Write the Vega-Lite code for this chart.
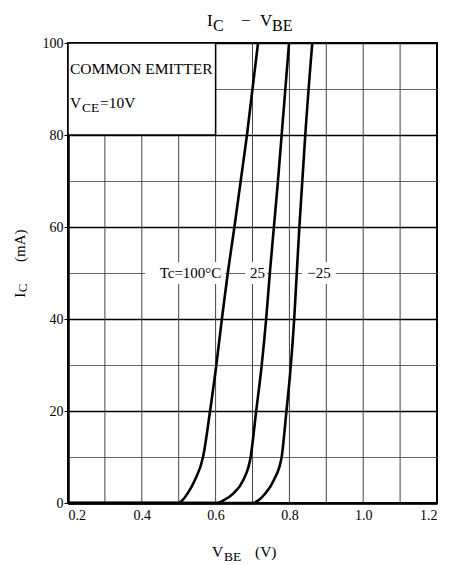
{
  "$schema": "https://vega.github.io/schema/vega-lite/v6.json",
  "autosize": "none",
  "width": 369,
  "height": 460,
  "padding": {"left": 68, "top": 43, "right": 12, "bottom": 62},
  "background": "white",
  "config": {
    "view": {"stroke": "black", "strokeWidth": 2},
    "font": "Liberation Serif",
    "text": {"font": "Liberation Serif", "color": "black"}
  },
  "datasets": {
    "vgrid": [
      {"V": 0.3}, {"V": 0.4}, {"V": 0.5}, {"V": 0.6}, {"V": 0.7},
      {"V": 0.8}, {"V": 0.9}, {"V": 1.0}, {"V": 1.1}
    ],
    "curves": [
      {"T": "100", "V": 0.2, "I": 0},
      {"T": "100", "V": 0.5, "I": 0},
      {"T": "100", "V": 0.51, "I": 0.6},
      {"T": "100", "V": 0.525, "I": 2.2},
      {"T": "100", "V": 0.544, "I": 5},
      {"T": "100", "V": 0.566, "I": 10},
      {"T": "100", "V": 0.585, "I": 20},
      {"T": "100", "V": 0.602, "I": 30},
      {"T": "100", "V": 0.617, "I": 40},
      {"T": "100", "V": 0.633, "I": 50},
      {"T": "100", "V": 0.651, "I": 60},
      {"T": "100", "V": 0.668, "I": 70},
      {"T": "100", "V": 0.685, "I": 80},
      {"T": "100", "V": 0.715, "I": 100},
      {"T": "25", "V": 0.2, "I": 0},
      {"T": "25", "V": 0.605, "I": 0},
      {"T": "25", "V": 0.62, "I": 0.5},
      {"T": "25", "V": 0.647, "I": 2},
      {"T": "25", "V": 0.675, "I": 5},
      {"T": "25", "V": 0.695, "I": 10},
      {"T": "25", "V": 0.71, "I": 20},
      {"T": "25", "V": 0.725, "I": 30},
      {"T": "25", "V": 0.737, "I": 40},
      {"T": "25", "V": 0.747, "I": 50},
      {"T": "25", "V": 0.758, "I": 60},
      {"T": "25", "V": 0.769, "I": 70},
      {"T": "25", "V": 0.779, "I": 80},
      {"T": "25", "V": 0.799, "I": 100},
      {"T": "-25", "V": 0.2, "I": 0},
      {"T": "-25", "V": 0.7, "I": 0},
      {"T": "-25", "V": 0.715, "I": 0.5},
      {"T": "-25", "V": 0.734, "I": 2},
      {"T": "-25", "V": 0.758, "I": 5},
      {"T": "-25", "V": 0.779, "I": 10},
      {"T": "-25", "V": 0.792, "I": 20},
      {"T": "-25", "V": 0.804, "I": 30},
      {"T": "-25", "V": 0.813, "I": 40},
      {"T": "-25", "V": 0.82, "I": 50},
      {"T": "-25", "V": 0.827, "I": 60},
      {"T": "-25", "V": 0.835, "I": 70},
      {"T": "-25", "V": 0.843, "I": 80},
      {"T": "-25", "V": 0.862, "I": 100}
    ],
    "boxes": [
      {"role": "box", "V": 0.2, "V2": 0.6, "I": 80, "I2": 100},
      {"role": "bg", "V": 0.409, "V2": 0.626, "I": 47.6, "I2": 52.4},
      {"role": "bg", "V": 0.68, "V2": 0.739, "I": 47.6, "I2": 52.4},
      {"role": "bg", "V": 0.834, "V2": 0.926, "I": 47.6, "I2": 52.4}
    ],
    "texts": [
      {"role": "title", "txt": "I", "V": 0.5767, "I": 104.7},
      {"role": "titlesub", "txt": "C", "V": 0.593, "I": 104.7},
      {"role": "title", "txt": "−", "V": 0.669, "I": 104.7},
      {"role": "title", "txt": "V", "V": 0.72, "I": 104.7},
      {"role": "titlesub", "txt": "BE", "V": 0.7528, "I": 104.7},
      {"role": "label", "txt": "V", "V": 0.59, "I": -10.65},
      {"role": "labelsub", "txt": "BE", "V": 0.6228, "I": -10.65},
      {"role": "label", "txt": "(V)", "V": 0.7068, "I": -10.65},
      {"role": "label", "txt": "COMMON EMITTER", "V": 0.2054, "I": 94.35},
      {"role": "label", "txt": "V", "V": 0.2054, "I": 86.96},
      {"role": "labelsub", "txt": "CE", "V": 0.2379, "I": 86.96},
      {"role": "label", "txt": "=10V", "V": 0.2867, "I": 86.96},
      {"role": "ylabel", "txt": "I", "V": 0.07, "I": 44.6},
      {"role": "ylabelsub", "txt": "C", "V": 0.07, "I": 45.8},
      {"role": "ylabel", "txt": "(mA)", "V": 0.07, "I": 52.4},
      {"role": "curve", "txt": "Tc=100°C", "V": 0.532, "I": 50},
      {"role": "curve", "txt": "25", "V": 0.7135, "I": 50},
      {"role": "curve", "txt": "−25", "V": 0.88, "I": 50}
    ]
  },
  "layer": [
    {
      "data": {"name": "vgrid"},
      "mark": {"type": "rule", "color": "#444", "strokeWidth": 1},
      "encoding": {
        "x": {
          "field": "V", "type": "quantitative",
          "scale": {"domain": [0.2, 1.2], "nice": false, "zero": false},
          "axis": {
            "values": [0.2, 0.4, 0.6, 0.8, 1.0, 1.2],
            "format": ".1f",
            "title": null,
            "grid": false,
            "ticks": false,
            "labelPadding": 5,
            "labelFont": "Liberation Serif",
            "labelFontSize": 14,
            "labelColor": "black",
            "domainColor": "black",
            "domainWidth": 2.5
          }
        }
      }
    },
    {
      "data": {"name": "boxes"},
      "transform": [{"filter": "datum.role == 'box'"}],
      "mark": {"type": "rect", "fill": "white", "stroke": "black", "strokeWidth": 1.5},
      "encoding": {
        "x": {"field": "V", "type": "quantitative"},
        "x2": {"field": "V2"},
        "y": {
          "field": "I", "type": "quantitative",
          "scale": {"domain": [0, 100], "nice": false},
          "axis": {
            "values": [0, 10, 20, 30, 40, 50, 60, 70, 80, 90, 100],
            "labelExpr": "datum.value % 20 == 0 ? datum.label : ''",
            "title": null,
            "grid": true,
            "gridColor": {"condition": {"test": "datum.value % 20 == 0", "value": "black"}, "value": "#666"},
            "gridWidth": {"condition": {"test": "datum.value % 20 == 0", "value": 1.6}, "value": 1},
            "tickSize": 4,
            "tickColor": {"condition": {"test": "datum.value % 20 == 0", "value": "black"}, "value": "transparent"},
            "labelPadding": 1,
            "labelFont": "Liberation Serif",
            "labelFontSize": 14,
            "labelColor": "black",
            "domainColor": "black",
            "domainWidth": 2.5
          }
        },
        "y2": {"field": "I2"}
      }
    },
    {
      "data": {"name": "boxes"},
      "transform": [{"filter": "datum.role == 'bg'"}],
      "mark": {"type": "rect", "fill": "white"},
      "encoding": {
        "x": {"field": "V", "type": "quantitative"},
        "x2": {"field": "V2"},
        "y": {"field": "I", "type": "quantitative"},
        "y2": {"field": "I2"}
      }
    },
    {
      "data": {"name": "curves"},
      "mark": {"type": "line", "color": "black", "strokeWidth": 2.6, "interpolate": "monotone"},
      "encoding": {
        "x": {"field": "V", "type": "quantitative"},
        "y": {"field": "I", "type": "quantitative"},
        "detail": {"field": "T"}
      }
    },
    {
      "data": {"name": "texts"},
      "transform": [{"filter": "datum.role == 'title'"}],
      "mark": {"type": "text", "fontSize": 17, "align": "left", "baseline": "middle"},
      "encoding": {
        "x": {"field": "V", "type": "quantitative"},
        "y": {"field": "I", "type": "quantitative"},
        "text": {"field": "txt"}
      }
    },
    {
      "data": {"name": "texts"},
      "transform": [{"filter": "datum.role == 'titlesub'"}],
      "mark": {"type": "text", "fontSize": 16, "align": "left", "baseline": "middle", "dy": 5},
      "encoding": {
        "x": {"field": "V", "type": "quantitative"},
        "y": {"field": "I", "type": "quantitative"},
        "text": {"field": "txt"}
      }
    },
    {
      "data": {"name": "texts"},
      "transform": [{"filter": "datum.role == 'label'"}],
      "mark": {"type": "text", "fontSize": 15.5, "align": "left", "baseline": "middle"},
      "encoding": {
        "x": {"field": "V", "type": "quantitative"},
        "y": {"field": "I", "type": "quantitative"},
        "text": {"field": "txt"}
      }
    },
    {
      "data": {"name": "texts"},
      "transform": [{"filter": "datum.role == 'labelsub'"}],
      "mark": {"type": "text", "fontSize": 13.5, "align": "left", "baseline": "middle", "dy": 5},
      "encoding": {
        "x": {"field": "V", "type": "quantitative"},
        "y": {"field": "I", "type": "quantitative"},
        "text": {"field": "txt"}
      }
    },
    {
      "data": {"name": "texts"},
      "transform": [{"filter": "datum.role == 'ylabel'"}],
      "mark": {"type": "text", "fontSize": 15, "align": "left", "baseline": "middle", "angle": 270},
      "encoding": {
        "x": {"field": "V", "type": "quantitative"},
        "y": {"field": "I", "type": "quantitative"},
        "text": {"field": "txt"}
      }
    },
    {
      "data": {"name": "texts"},
      "transform": [{"filter": "datum.role == 'ylabelsub'"}],
      "mark": {"type": "text", "fontSize": 13, "align": "left", "baseline": "middle", "angle": 270, "dy": 3},
      "encoding": {
        "x": {"field": "V", "type": "quantitative"},
        "y": {"field": "I", "type": "quantitative"},
        "text": {"field": "txt"}
      }
    },
    {
      "data": {"name": "texts"},
      "transform": [{"filter": "datum.role == 'curve'"}],
      "mark": {"type": "text", "fontSize": 15, "align": "center", "baseline": "middle"},
      "encoding": {
        "x": {"field": "V", "type": "quantitative"},
        "y": {"field": "I", "type": "quantitative"},
        "text": {"field": "txt"}
      }
    }
  ]
}
